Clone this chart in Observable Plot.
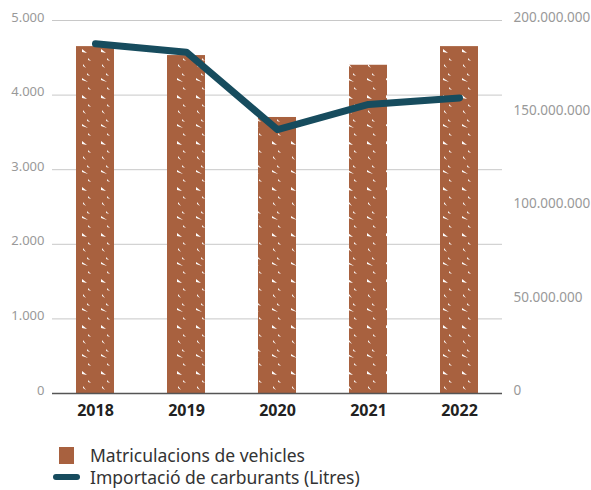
<!DOCTYPE html>
<html>
<head>
<meta charset="utf-8">
<script src="https://cdn.jsdelivr.net/npm/d3@7"></script>
<script src="https://cdn.jsdelivr.net/npm/@observablehq/plot@0.6"></script>
<style>
  body { margin: 0; background: #fff; font-family: "Noto Sans", sans-serif; }
  #chart { width: 591px; }
  .legend { margin-left: 53px; margin-top: 19px; color: #333; font-size: 17.5px; line-height: 22px; }
  .legend .row { display: flex; align-items: center; height: 22px; }
  .legend .sw { width: 27px; display: flex; justify-content: center; margin-right: 10px; }
  .legend .sq { width: 15px; height: 17px; background: #a8613f; }
  .legend .ln { width: 27px; height: 6px; border-radius: 3px; background: #174c5e; }
</style>
</head>
<body>
<div id="chart"></div>
<script>
const years = ["2018", "2019", "2020", "2021", "2022"];
const vehicles = [4650, 4530, 3700, 4400, 4650];
const fuelLitres = [187500000, 183000000, 141500000, 155000000, 158500000];
const leftTicks = [0, 1000, 2000, 3000, 4000, 5000];
const rightTicks = [0, 50000000, 100000000, 150000000, 200000000];
const seriesNames = ["Matriculacions de vehicles", "Importació de carburants (Litres)"];

const LEFT_MAX = 5000, RIGHT_MAX = 200000000;
const toLeft = v => v / RIGHT_MAX * LEFT_MAX;
const fmt = d3.format(",d");
const dotFmt = v => fmt(v).replace(/,/g, ".");

const barData = years.map((y, i) => ({year: y, value: vehicles[i]}));
const lineData = years.map((y, i) => ({year: y, value: toLeft(fuelLitres[i])}));

const chart = Plot.plot({
  width: 591,
  height: 425,
  marginLeft: 52,
  marginRight: 89,
  marginTop: 20,
  marginBottom: 32,
  style: {fontFamily: "Noto Sans, sans-serif", background: "#fff"},
  x: {domain: years, paddingInner: 0.58, paddingOuter: 0.26, axis: null},
  y: {domain: [0, LEFT_MAX], axis: null},
  marks: [
    Plot.ruleY(leftTicks.filter(d => d > 0), {stroke: "#c8c8c8", strokeWidth: 1}),
    Plot.barY(barData, {x: "year", y: "value", fill: "url(#hatch)"}),
    Plot.ruleY([0], {stroke: "#555", strokeWidth: 1.5}),
    Plot.line(lineData, {x: "year", y: "value", stroke: "#174c5e", strokeWidth: 7, strokeLinejoin: "round", strokeLinecap: "round"}),
    Plot.axisY(leftTicks, {anchor: "left", label: null, tickSize: 0, tickPadding: 8, tickFormat: dotFmt, fill: "#999", fontSize: 13, dy: -3}),
    Plot.axisY(rightTicks.map(toLeft), {anchor: "right", label: null, tickSize: 0, tickPadding: 11, tickFormat: v => dotFmt(Math.round(v / LEFT_MAX * RIGHT_MAX)), fill: "#999", fontSize: 13.5, dy: -3}),
    Plot.axisX(years, {anchor: "bottom", label: null, tickSize: 0, tickPadding: 11, fill: "#222", fontSize: 16, fontWeight: "bold"})
  ]
});

// hatching pattern for the bars
const ns = "http://www.w3.org/2000/svg";
const defs = document.createElementNS(ns, "defs");
defs.innerHTML = `
<pattern id="hatch" patternUnits="userSpaceOnUse" width="19" height="46">
  <rect width="19" height="46" fill="#a8613f"/>
  <path d="M6 3 L11 7 L6 6 Z" fill="#fff"/>
  <path d="M7 18 L10 22 L7 20 Z" fill="#fff"/>
  <path d="M6 32 L12 36 L6 34 Z" fill="#fff"/>
  <path d="M12 12 L15 15 L12 14 Z" fill="#fff" opacity="0.9"/>
  <path d="M11 27 L14 30 L11 29 Z" fill="#fff" opacity="0.9"/>
  <path d="M12 41 L15 44 L12 43 Z" fill="#fff" opacity="0.9"/>
</pattern>`;
chart.insertBefore(defs, chart.firstChild);

document.getElementById("chart").appendChild(chart);

const legend = document.createElement("div");
legend.className = "legend";
legend.innerHTML = `
  <div class="row"><div class="sw"><div class="sq"></div></div><span>${seriesNames[0]}</span></div>
  <div class="row"><div class="sw"><div class="ln"></div></div><span>${seriesNames[1]}</span></div>`;
document.getElementById("chart").appendChild(legend);
</script>
</body>
</html>
